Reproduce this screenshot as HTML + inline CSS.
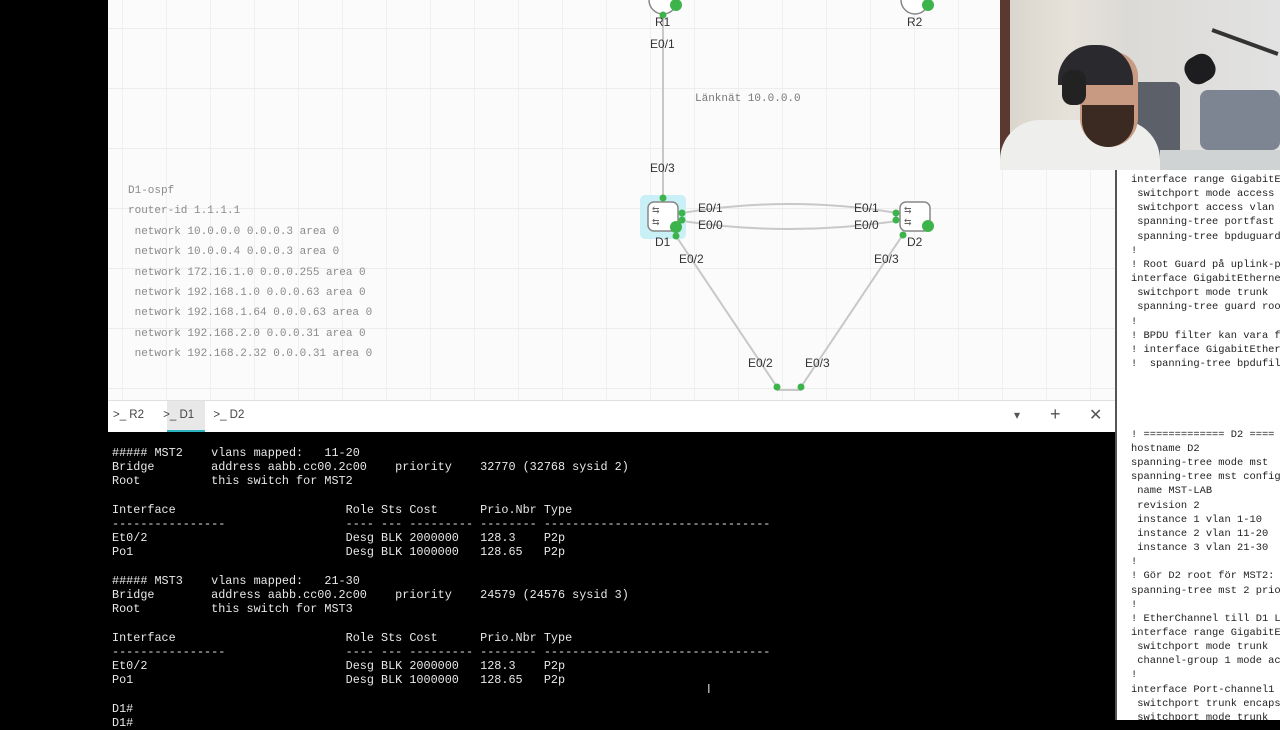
<!DOCTYPE html>
<html><head><meta charset="utf-8"><style>
*{margin:0;padding:0;box-sizing:border-box}
body{width:1280px;height:720px;overflow:hidden;background:#000;position:relative;font-family:"Liberation Sans",sans-serif}
.abs{position:absolute}
#canvas{left:108px;top:0;width:1007px;height:400px;background-color:#fbfbfb;
background-image:linear-gradient(#ededed 1px,transparent 1px),linear-gradient(90deg,#f0f0f0 1px,transparent 1px);
background-size:100% 60px,44px 100%;background-position:0 28px,14px 0}
.cfg{font-family:"Liberation Mono",monospace;font-size:11px;color:#8a8a8a;line-height:20.4px;white-space:pre}
pre{font-family:"Liberation Mono",monospace}
#term{left:108px;top:432px;width:1004px;height:288px;background:#000;color:#e8e8e8;font-size:11.8px;line-height:14.2px;padding:14px 0 0 4px;white-space:pre}
#tabs{left:108px;top:400px;width:1007px;height:32px;background:#fff;border-top:1px solid #e0e0e0}
#right{left:1115px;top:170px;width:165px;height:550px;background:#fff;border-left:2px solid #555;font-size:10.4px;line-height:14.15px;color:#222;padding:3px 0 0 14px;white-space:pre;overflow:hidden}
</style></head><body>
<div id="canvas" class="abs"></div>
<svg class="abs" style="left:0;top:0" width="1280" height="400">
<g stroke="#c8c8c8" stroke-width="2" fill="none">
<line x1="663" y1="14" x2="663" y2="198"/>
<path d="M682 213 Q790 195 897 213"/>
<path d="M682 221 Q790 237 897 221"/>
<line x1="676" y1="236" x2="777" y2="387"/>
<line x1="902" y1="236" x2="801" y2="387"/>
<line x1="777" y1="390" x2="801" y2="390"/>
</g>
<rect x="640" y="195" width="46" height="44" rx="5" fill="#c8f0f6"/>
<rect x="648" y="202" width="30" height="29" rx="6" fill="#fff" stroke="#888" stroke-width="1.5"/>
<rect x="900" y="202" width="30" height="29" rx="6" fill="#fff" stroke="#888" stroke-width="1.5"/>
<text x="652" y="213" font-size="9" fill="#666">⇆</text><text x="652" y="225" font-size="9" fill="#666">⇆</text>
<text x="904" y="213" font-size="9" fill="#666">⇆</text><text x="904" y="225" font-size="9" fill="#666">⇆</text>
<path d="M649 0 A14 14 0 0 0 677 0" fill="#fff" stroke="#888" stroke-width="1.5"/>
<path d="M901 0 A14 14 0 0 0 929 0" fill="#fff" stroke="#888" stroke-width="1.5"/>
<g fill="#3cb44b">
<circle cx="676" cy="5" r="6"/><circle cx="928" cy="5" r="6"/>
<circle cx="676" cy="227" r="6"/><circle cx="928" cy="226" r="6"/>
<circle cx="663" cy="15" r="3.5"/><circle cx="663" cy="198" r="3.5"/>
<circle cx="682" cy="213" r="3.5"/><circle cx="682" cy="220" r="3.5"/>
<circle cx="896" cy="213" r="3.5"/><circle cx="896" cy="220" r="3.5"/>
<circle cx="676" cy="236" r="3.5"/><circle cx="903" cy="235" r="3.5"/>
<circle cx="777" cy="387" r="3.5"/><circle cx="801" cy="387" r="3.5"/>
</g>
<g font-family="Liberation Sans" font-size="12" fill="#333">
<text x="655" y="26">R1</text><text x="907" y="26">R2</text>
<text x="650" y="48">E0/1</text><text x="650" y="172">E0/3</text>
<text x="698" y="212">E0/1</text><text x="698" y="229">E0/0</text>
<text x="854" y="212">E0/1</text><text x="854" y="229">E0/0</text>
<text x="655" y="246">D1</text><text x="907" y="246">D2</text>
<text x="679" y="263">E0/2</text><text x="874" y="263">E0/3</text>
<text x="748" y="367">E0/2</text><text x="805" y="367">E0/3</text>
</g>
<text x="695" y="101" font-family="Liberation Mono" font-size="11" fill="#777">Länknät 10.0.0.0</text>
</svg>
<div class="abs cfg" style="left:128px;top:181px">D1-ospf
router-id 1.1.1.1
 network 10.0.0.0 0.0.0.3 area 0
 network 10.0.0.4 0.0.0.3 area 0
 network 172.16.1.0 0.0.0.255 area 0
 network 192.168.1.0 0.0.0.63 area 0
 network 192.168.1.64 0.0.0.63 area 0
 network 192.168.2.0 0.0.0.31 area 0
 network 192.168.2.32 0.0.0.31 area 0</div>
<div id="tabs" class="abs">
<div class="abs" style="left:59px;top:0;width:38px;height:31px;background:#e8e8e8;border-bottom:2px solid #2bb3c0"></div>
<div class="abs" style="left:5px;top:8px;font-size:11.5px;color:#444;white-space:pre">&gt;_ R2      &gt;_ D1      &gt;_ D2</div>
<div class="abs" style="left:906px;top:7px;font-size:12px;color:#555">▾</div>
<div class="abs" style="left:942px;top:3px;font-size:18px;color:#555">+</div>
<div class="abs" style="left:981px;top:4px;font-size:16px;color:#555">✕</div>
</div>
<pre id="term" class="abs">##### MST2    vlans mapped:   11-20
Bridge        address aabb.cc00.2c00    priority    32770 (32768 sysid 2)
Root          this switch for MST2

Interface                        Role Sts Cost      Prio.Nbr Type
----------------                 ---- --- --------- -------- --------------------------------
Et0/2                            Desg BLK 2000000   128.3    P2p
Po1                              Desg BLK 1000000   128.65   P2p

##### MST3    vlans mapped:   21-30
Bridge        address aabb.cc00.2c00    priority    24579 (24576 sysid 3)
Root          this switch for MST3

Interface                        Role Sts Cost      Prio.Nbr Type
----------------                 ---- --- --------- -------- --------------------------------
Et0/2                            Desg BLK 2000000   128.3    P2p
Po1                              Desg BLK 1000000   128.65   P2p

D1#
D1#</pre>
<div class="abs" style="left:707px;top:681px;color:#ccc;font-size:13px">I</div>
<pre id="right" class="abs">interface range GigabitE
 switchport mode access
 switchport access vlan
 spanning-tree portfast
 spanning-tree bpduguard
!
! Root Guard på uplink-p
interface GigabitEtherne
 switchport mode trunk
 spanning-tree guard roo
!
! BPDU filter kan vara f
! interface GigabitEther
!  spanning-tree bpdufil




! ============= D2 ====
hostname D2
spanning-tree mode mst
spanning-tree mst config
 name MST-LAB
 revision 2
 instance 1 vlan 1-10
 instance 2 vlan 11-20
 instance 3 vlan 21-30
!
! Gör D2 root för MST2:
spanning-tree mst 2 prio
!
! EtherChannel till D1 L
interface range GigabitE
 switchport mode trunk
 channel-group 1 mode ac
!
interface Port-channel1
 switchport trunk encaps
 switchport mode trunk</pre>
<div class="abs" style="left:1000px;top:0;width:280px;height:170px;background:linear-gradient(90deg,#d8d4cc 0,#e6e2da 25%,#dcdad6 45%,#e2e2e2 100%);overflow:hidden">
<div class="abs" style="left:0;top:0;width:10px;height:170px;background:#5a3a30"></div>
<div class="abs" style="left:200px;top:90px;width:80px;height:60px;background:#7d8593;border-radius:8px"></div>
<div class="abs" style="left:130px;top:82px;width:50px;height:80px;background:#5c6068;border-radius:6px"></div>
<div class="abs" style="left:160px;top:150px;width:120px;height:20px;background:#cfd3d4"></div>
<div class="abs" style="left:0;top:120px;width:160px;height:60px;background:#eeeeec;border-radius:40px 40px 0 0"></div>
<div class="abs" style="left:80px;top:52px;width:58px;height:95px;background:#c89a82;border-radius:25px 25px 30px 30px"></div>
<div class="abs" style="left:82px;top:105px;width:52px;height:42px;background:#3a2a22;border-radius:0 0 26px 26px"></div>
<div class="abs" style="left:58px;top:45px;width:75px;height:40px;background:#2a2a2e;border-radius:35px 35px 0 0"></div>
<div class="abs" style="left:62px;top:70px;width:24px;height:35px;background:#222;border-radius:10px"></div>
<div class="abs" style="left:185px;top:55px;width:30px;height:28px;background:#1d1d1f;border-radius:12px;transform:rotate(-30deg)"></div>
<div class="abs" style="left:210px;top:40px;width:70px;height:4px;background:#333;transform:rotate(20deg)"></div>
</div>
</body></html>
